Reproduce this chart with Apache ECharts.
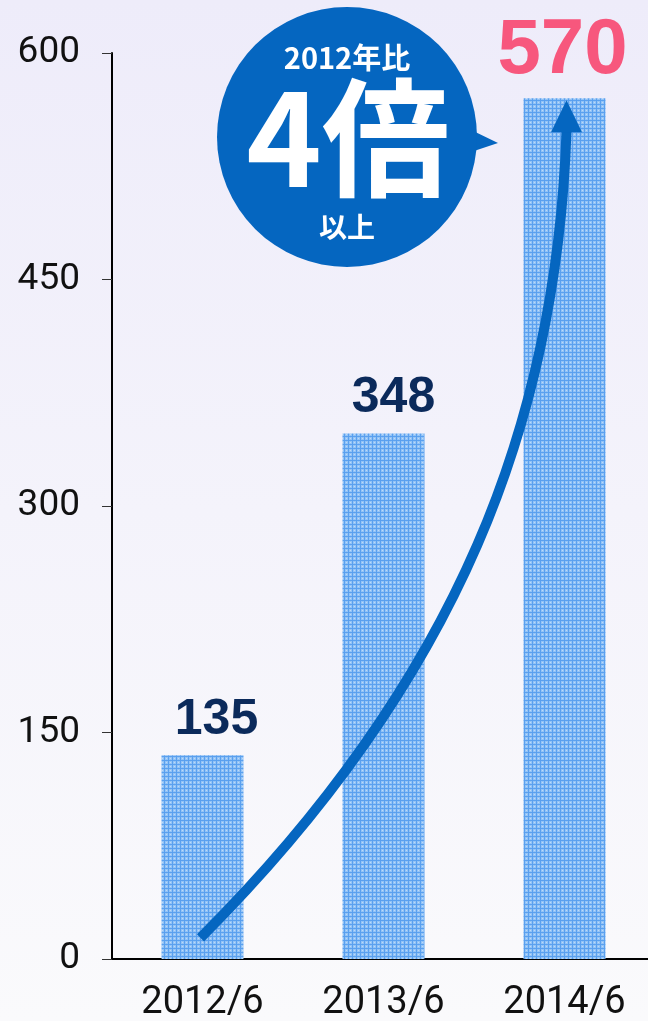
<!DOCTYPE html>
<html>
<head>
<meta charset="utf-8">
<script src="https://cdn.jsdelivr.net/npm/echarts@6/dist/echarts.min.js"></script>
<style>
  html, body { margin: 0; padding: 0; }
  #chart { width: 648px; height: 1021px; }
</style>
</head>
<body>
<div id="chart"></div>
<script>
// Values (億円) at each June
const categories = ['2012/6', '2013/6', '2014/6'];
const values = [135, 348, 570];
const yTicks = [0, 150, 300, 450, 600];
const growthTitle = '2012年比';
const growthMain = '4倍';
const growthSub = '以上';
const unitText = '（億円）';

// Cross-hatched light-blue fill for the bars
function makeHatch() {
  const c = document.createElement('canvas');
  c.width = 8; c.height = 8;
  const g = c.getContext('2d');
  g.fillStyle = '#92c3f6';
  g.fillRect(0, 0, 8, 8);
  g.fillStyle = '#5aa0ef';
  g.fillRect(0, 0, 8, 1);
  g.fillRect(0, 4, 8, 1);
  g.fillRect(0, 0, 1, 8);
  g.fillRect(4, 0, 1, 8);
  g.fillStyle = '#bcd9fa';
  [[2, 2], [6, 6], [2, 6], [6, 2]].forEach(p => g.fillRect(p[0], p[1], 1, 1));
  return c;
}
const hatch = makeHatch();

const labelNavy = '#0b2a5b';
const accentPink = '#f7577d';
const arrowBlue = '#0566c0';

const barData = values.map((v, i) => {
  const last = i === values.length - 1;
  return {
    value: v,
    label: {
      show: true,
      position: 'top',
      distance: last ? 8 : 10,
      offset: last ? [-2, 0] : [i === 0 ? 14 : 10, 0],
      fontFamily: 'Liberation Sans, Arial, sans-serif',
      fontWeight: 'bold',
      fontSize: last ? 78 : 50,
      lineHeight: last ? 78 : 50,
      color: last ? accentPink : labelNavy
    }
  };
});

const chart = echarts.init(document.getElementById('chart'), null, { renderer: 'canvas' });

chart.setOption({
  animation: false,
  backgroundColor: {
    type: 'linear', x: 0, y: 0, x2: 0, y2: 1,
    colorStops: [
      { offset: 0, color: '#eeecfa' },
      { offset: 1, color: '#fafafc' }
    ]
  },
  // the plot runs slightly past the right edge of the canvas
  grid: { left: 112, top: 53, right: -7, bottom: 62, outerBoundsMode: 'none', containLabel: false },
  xAxis: {
    type: 'category',
    data: categories,
    axisLine: { lineStyle: { color: '#000', width: 2 } },
    axisTick: { show: false },
    axisLabel: {
      margin: 25,
      fontFamily: 'Roboto, sans-serif',
      fontSize: 38,
      color: '#111'
    }
  },
  yAxis: {
    type: 'value',
    min: yTicks[0],
    max: yTicks[yTicks.length - 1],
    interval: yTicks[1] - yTicks[0],
    axisLine: { show: true, lineStyle: { color: '#000', width: 2 } },
    axisTick: { show: true, length: 10, lineStyle: { color: '#333', width: 1 } },
    splitLine: { show: false },
    axisLabel: {
      margin: 32,
      fontFamily: 'Roboto, sans-serif',
      fontSize: 37,
      color: '#111'
    }
  },
  series: [{
    type: 'bar',
    barWidth: 82,
    itemStyle: { color: { image: hatch, repeat: 'repeat' } },
    data: barData,
    z: 2
  }]
});

// Growth arrow from the first bar's base up to the top of the last bar
const start = chart.convertToPixel({ xAxisIndex: 0, yAxisIndex: 0 }, [categories[0], 14]);
const tip = chart.convertToPixel({ xAxisIndex: 0, yAxisIndex: 0 }, [categories[2], values[2]]);
const sx = start[0] - 2, sy = start[1];
const tx = tip[0] + 2, ty = tip[1] + 2;
const headH = 31, headW = 31;
const ex = tx, ey = ty + headH;

// Speech bubble with the growth multiple
const bx = 347, by = 137, br = 130;

chart.setOption({
  graphic: [
    {
      type: 'text',
      left: 'center',
      top: -42,
      style: { text: unitText, font: '40px "Noto Sans CJK JP"', fill: '#222' },
      z: 1
    },
    {
      type: 'bezierCurve',
      shape: {
        x1: sx, y1: sy,
        cpx1: sx + 260, cpy1: sy - 260,
        cpx2: ex - 10, cpy2: ey + 288,
        x2: ex, y2: ey
      },
      style: { stroke: arrowBlue, lineWidth: 10, fill: null, lineCap: 'butt' },
      z: 10
    },
    {
      type: 'polygon',
      shape: { points: [[tx, ty], [tx - headW / 2, ey + 1], [tx + headW / 2, ey + 1]] },
      style: { fill: arrowBlue },
      z: 10
    },
    {
      type: 'polygon',
      shape: { points: [[bx + br - 12, by - 10], [bx + 151, by + 6], [bx + br - 12, by + 17]] },
      style: { fill: arrowBlue },
      z: 11
    },
    {
      type: 'circle',
      shape: { cx: bx, cy: by, r: br },
      style: { fill: arrowBlue },
      z: 11
    },
    {
      type: 'text',
      x: bx, y: by - 79,
      style: {
        text: growthTitle, fill: '#fff',
        font: 'bold 29px "Noto Sans CJK JP", sans-serif',
        align: 'center', verticalAlign: 'middle'
      },
      z: 12
    },
    {
      type: 'text',
      x: bx + 1, y: by + 1,
      style: {
        text: growthMain, fill: '#fff',
        font: 'bold 128px "Noto Sans CJK JP", sans-serif',
        align: 'center', verticalAlign: 'middle'
      },
      z: 12
    },
    {
      type: 'text',
      x: bx, y: by + 90,
      style: {
        text: growthSub, fill: '#fff',
        font: 'bold 28px "Noto Sans CJK JP", sans-serif',
        align: 'center', verticalAlign: 'middle'
      },
      z: 12
    }
  ]
});
</script>
</body>
</html>
